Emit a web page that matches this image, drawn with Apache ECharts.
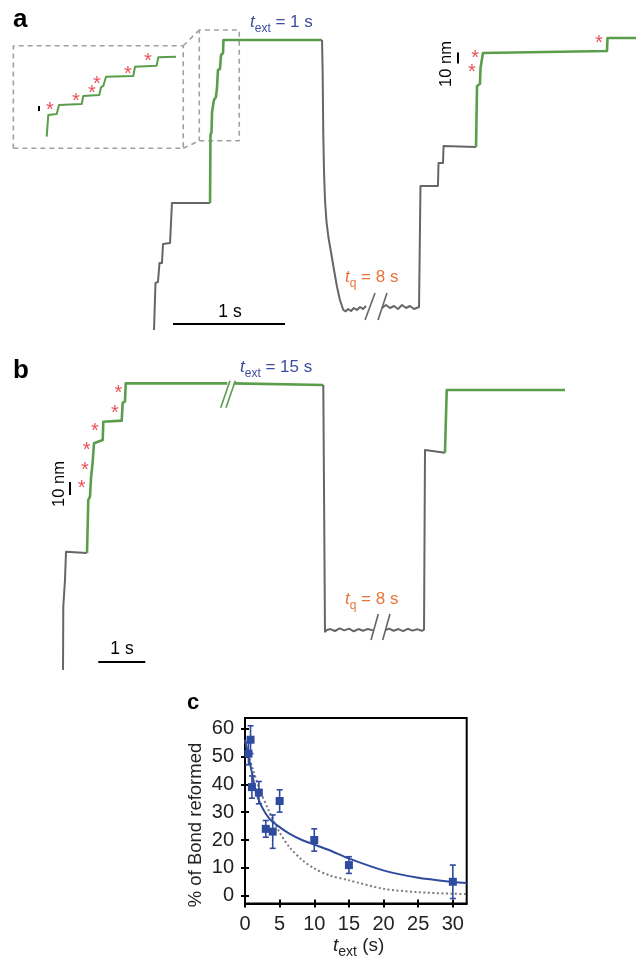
<!DOCTYPE html>
<html>
<head>
<meta charset="utf-8">
<script src="https://cdn.jsdelivr.net/npm/echarts@6/dist/echarts.min.js"></script>
<style>
  html, body { margin: 0; padding: 0; background: #fff; }
  #chart { width: 636px; height: 961px; }
</style>
</head>
<body>
<div id="chart"></div>
<script>
// ---- panel a : time (s), extension (nm) ----
const aGray1 = [[0.036,9.1],[0.049,51.8],[0.071,52.7],[0.085,70.0],[0.107,70.0],[0.116,87.3],[0.179,88.2],[0.196,124.5],[0.536,124.5]];
const aGreen1 = [[0.536,124.5],[0.540,186.4],[0.549,189.1],[0.554,207.3],[0.567,209.1],[0.571,218.2],[0.589,220.9],[0.598,229.1],[0.607,245.5],[0.625,246.4],[0.634,259.1],[0.652,260.9],[0.656,272.7],[1.536,272.7]];
const aGray2 = [[1.536,272.7],[1.542,240.0],[1.547,187.9],[1.554,151.8],[1.5625,127.3],[1.576,107.3],[1.594,92.7],[1.616,80.0],[1.643,63.6],[1.670,48.2],[1.696,36.4],[1.726,27.3],[1.748,26.0],[1.768,28.2],[1.795,26.4],[1.821,29.1],[1.848,27.3],[1.875,30.0],[1.902,28.2],[1.929,30.9]];
const aGray3 = [[2.071,29.1],[2.107,31.8],[2.143,29.1],[2.179,30.9],[2.214,28.2],[2.25,31.8],[2.286,29.1],[2.321,30.9],[2.357,28.2],[2.402,30.0],[2.415,140.0],[2.571,140.0],[2.576,160.9],[2.616,160.9],[2.621,176.4],[2.911,175.5]];
const aGreen2 = [[2.911,175.5],[2.920,230.9],[2.946,232.7],[2.951,247.3],[2.964,248.2],[2.973,260.9],[4.080,262.7],[4.085,274.5],[4.339,274.5]];
const aStars = [[2.902,260.9],[2.875,247.3],[4.009,274.5]];
const aBreak1 = [[1.920,18.2],[2.009,42.7]];
const aBreak2 = [[2.036,18.2],[2.116,42.7]];
const aBarT = [[0.205,14.5],[1.205,14.5]];
const aBarZ = [[2.75,251.4],[2.75,261.4]];
const aBoxSmall = [[0.440,181.2],[0.797,181.2],[0.797,281.8],[0.440,281.8],[0.440,181.2]];
const aBoxInset = [[-1.220,174.3],[0.297,174.3],[0.297,267.5],[-1.220,267.5],[-1.220,174.3]];
const aLinkTop = [[0.297,267.5],[0.440,281.8]];
const aLinkBot = [[0.297,174.3],[0.440,181.2]];

// ---- inset of a : time (ms), extension (nm) ----
const insetTrace = [[70.8,11.1],[74.1,32.3],[91.8,33.3],[96.6,42.1],[144.3,43.1],[147.6,51.0],[181.2,51.9],[184.8,59.5],[189.6,60.8],[195.3,69.9],[252.6,70.6],[256.2,79.7],[301.8,80.7],[305.1,88.9],[342.3,89.5]];
const insetStars = [[77.7,41.2],[132.3,50.0],[165.9,58.8],[176.4,67.6],[241.5,77.4],[283.5,89.2]];
const insetBar = [[54.6,36.3],[54.6,41.2]];

// ---- panel b : time (s), extension (nm) ----
const bGray1 = [[0.064,0],[0.070,48.7],[0.096,50.0],[0.106,69.2],[0.117,70.0],[0.128,91.0],[0.575,90.0]];
const bGreen1 = [[0.575,90.0],[0.602,130.8],[0.638,133.3],[0.660,147.5],[0.696,160.2],[0.723,174.4],[0.909,176.9],[0.921,191.0],[1.313,191.8],[1.334,205.6],[1.383,206.4],[1.398,220.5],[3.56,220.5]];
const bGreen2 = [[3.70,220.5],[5.602,219.2]];
const bGray2 = [[5.602,219.2],[5.638,29.5],[5.681,30.8],[5.75,31.5],[5.85,30.0],[5.95,32.0],[6.05,30.5],[6.15,31.8],[6.25,29.8],[6.35,31.5],[6.45,30.2],[6.55,31.6],[6.66,30.5]];
const bGray3 = [[6.93,30.6],[7.0,31.8],[7.1,30.2],[7.2,31.5],[7.3,29.9],[7.4,31.7],[7.5,30.3],[7.6,31.4],[7.7,30.1],[7.745,31.0],[7.766,169.2],[8.191,167.2]];
const bGreen3 = [[8.191,167.2],[8.228,215.4],[10.745,215.4]];
const bStars = [[1.240,216.7],[1.170,201.3],[0.745,187.7],[0.568,172.5],[0.532,157.2],[0.462,143.1]];
const bBreakG1 = [[3.419,201.8],[3.617,222.5]];
const bBreakG2 = [[3.532,201.8],[3.730,222.5]];
const bBreakK1 = [[6.617,23.1],[6.772,43.1]];
const bBreakK2 = [[6.866,23.1],[7.021,43.1]];
const bBarT = [[0.815,6.2],[1.815,6.2]];
const bBarZ = [[0.213,134.6],[0.213,144.6]];

// ---- panel c ----
const cT   = [0.5, 0.8, 1, 2, 3, 4, 5, 10, 15, 30];
const cPct = [51, 56, 39, 37, 24, 23, 34, 20, 11, 5];
const cLo  = [47, 51, 35, 33, 21, 17, 30, 16, 8, -1];
const cHi  = [55, 61, 43, 41, 27, 29, 38, 24, 14, 11];
const fitT     = [0, 0.87, 1.59, 2.31, 3.51, 4.95, 6.4, 8.3, 10.05, 12.2, 15.05, 19.96, 24.8, 30.06, 32];
const fitSolid = [56, 45.7, 37.3, 32.5, 27.7, 24.7, 22.3, 19.9, 18.3, 16.3, 13.3, 9.1, 6.5, 4.9, 4.6];
const expT     = [0, 1.1, 2.07, 3.51, 4.95, 6.4, 8.3, 10.05, 12.2, 15.05, 19.96, 24.8, 30.06, 32];
const expVals  = [55.5, 45.7, 38.5, 30.1, 22.9, 17.5, 12.7, 9.7, 7.3, 5.5, 2.5, 1.3, 0.7, 0.6];
const yTicks = [0, 10, 20, 30, 40, 50, 60];
const xTicks = [0, 5, 10, 15, 20, 25, 30];

const FONT = '"Liberation Sans", Arial, Helvetica, sans-serif';
const GREEN = '#5a9e4c', GRAY = '#666666', RED = '#e3262d', BLUE = '#2f4b9f';
const LBLUE = '#3d4c9c', ORANGE = '#e8743b', BOXGRAY = '#a0a0a0';

function trace(idx, data, color, width, extra) {
  return Object.assign({
    type: 'line', xAxisIndex: idx, yAxisIndex: idx, data: data,
    symbol: 'none', silent: true, animation: false,
    lineStyle: { color: color, width: width, join: 'round' }
  }, extra || {});
}
function dashed(data) {
  return trace(0, data, BOXGRAY, 1.6, { lineStyle: { color: BOXGRAY, width: 1.6, type: [5, 4] } });
}
function stars(idx, data) {
  return {
    type: 'scatter', xAxisIndex: idx, yAxisIndex: idx, data: data,
    symbolSize: 1, itemStyle: { color: 'transparent' }, silent: true, animation: false, z: 5,
    label: { show: true, position: 'inside', formatter: '*', color: RED, fontSize: 20, fontFamily: FONT, offset: [0, 5] }
  };
}
function hidden(grid, min, max) {
  return { type: 'value', gridIndex: grid, min: min, max: max, show: false };
}
function txt(x, y, text, size, extra) {
  return {
    type: 'text', x: x, y: y, z: 100, rotation: (extra && extra.rotation) || 0,
    style: Object.assign({
      text: text, fill: '#000', font: size + 'px ' + FONT,
      textAlign: 'left', align: 'left', textVerticalAlign: 'middle', verticalAlign: 'middle'
    }, (extra && extra.style) || {})
  };
}
function subLabel(x, y, base, sub, rest, color, size) {
  return {
    type: 'text', x: x, y: y, z: 100,
    style: {
      text: '{i|' + base + '}{s|' + sub + '}{n|' + rest + '}',
      fill: color, textAlign: 'left', align: 'left', textVerticalAlign: 'middle', verticalAlign: 'middle',
      rich: {
        i: { fontStyle: 'italic', fontSize: size, fontFamily: FONT, lineHeight: 26, fill: color },
        s: { fontSize: Math.round(size * 0.72), fontFamily: FONT, lineHeight: 14, verticalAlign: 'bottom', fill: color },
        n: { fontSize: size, fontFamily: FONT, lineHeight: 26, fill: color }
      }
    }
  };
}

const tickAxisX = { type: 'value', min: 0, max: 32, splitLine: { show: false } };
const tickAxisY = { type: 'value', min: -2.8, max: 63.8, splitLine: { show: false } };

const option = {
  backgroundColor: '#ffffff',
  animation: false,
  grid: [
    { left: 0, top: 0, width: 636, height: 340 },
    { left: 13, top: 45, width: 170, height: 103 },
    { left: 0, top: 350, width: 636, height: 320 },
    { left: 245, right: 169.3, top: 718, bottom: 57.5, show: true, borderColor: '#000', borderWidth: 2 }
  ],
  xAxis: [
    hidden(0, -1.3393, 4.3393),
    hidden(1, 0, 357),
    hidden(2, -1.2766, 12.2553),
    Object.assign({}, tickAxisX, {
      gridIndex: 3, position: 'bottom',
      axisLine: { show: true, onZero: false, lineStyle: { color: '#000', width: 2 } },
      axisTick: { show: true, length: 4, customValues: xTicks, lineStyle: { color: '#000', width: 2 } },
      axisLabel: { show: true, customValues: xTicks, fontSize: 20, color: '#222', fontFamily: FONT, margin: 11 }
    }),
    Object.assign({}, tickAxisX, {
      gridIndex: 3, position: 'bottom',
      axisLine: { show: false, onZero: false },
      axisTick: { show: true, inside: true, length: 4, customValues: xTicks, lineStyle: { color: '#000', width: 2 } },
      axisLabel: { show: false }
    })
  ],
  yAxis: [
    hidden(0, 0, 309.09),
    hidden(1, 0, 100.94),
    hidden(2, 0, 246.154),
    Object.assign({}, tickAxisY, {
      gridIndex: 3, position: 'left',
      axisLine: { show: true, onZero: false, lineStyle: { color: '#000', width: 2 } },
      axisTick: { show: true, length: 4, customValues: yTicks, lineStyle: { color: '#000', width: 2 } },
      axisLabel: { show: true, customValues: yTicks, fontSize: 20, color: '#222', fontFamily: FONT, margin: 11 }
    }),
    Object.assign({}, tickAxisY, {
      gridIndex: 3, position: 'left', offset: 0,
      axisLine: { show: false, onZero: false },
      axisTick: { show: true, inside: true, length: 4, customValues: yTicks, lineStyle: { color: '#000', width: 2 } },
      axisLabel: { show: false }
    })
  ],
  series: [
    // panel a
    dashed(aBoxSmall),
    dashed(aBoxInset),
    dashed(aLinkTop),
    dashed(aLinkBot),
    trace(0, aGray1, GRAY, 2),
    trace(0, aGreen1, GREEN, 2.6),
    trace(0, aGray2, GRAY, 2),
    trace(0, aGray3, GRAY, 2),
    trace(0, aGreen2, GREEN, 2.6),
    trace(0, aBreak1, GRAY, 1.6),
    trace(0, aBreak2, GRAY, 1.6),
    trace(0, aBarT, '#000', 2),
    trace(0, aBarZ, '#000', 2),
    stars(0, aStars),
    // inset
    trace(1, insetTrace, GREEN, 2),
    trace(1, insetBar, '#000', 2),
    stars(1, insetStars),
    // panel b
    trace(2, bGray1, GRAY, 2),
    trace(2, bGreen1, GREEN, 2.6),
    trace(2, bGreen2, GREEN, 2.6),
    trace(2, bGray2, GRAY, 2),
    trace(2, bGray3, GRAY, 2),
    trace(2, bGreen3, GREEN, 2.6),
    trace(2, bBreakG1, GREEN, 1.6),
    trace(2, bBreakG2, GREEN, 1.6),
    trace(2, bBreakK1, GRAY, 1.6),
    trace(2, bBreakK2, GRAY, 1.6),
    trace(2, bBarT, '#000', 2),
    trace(2, bBarZ, '#000', 2),
    stars(2, bStars),
    // panel c
    trace(3, expT.map((t, i) => [t, expVals[i]]), '#777', 2, { smooth: 0.3, lineStyle: { color: '#7a7a7a', width: 2, type: [2, 2.5] }, z: 2 }),
    trace(3, fitT.map((t, i) => [t, fitSolid[i]]), BLUE, 2, { smooth: 0.3, z: 3 }),
    {
      type: 'custom', xAxisIndex: 3, yAxisIndex: 3, silent: true, animation: false, z: 4,
      data: cT.map((t, i) => [t, cLo[i], cHi[i]]),
      encode: { x: 0, y: [1, 2] },
      renderItem: function (params, api) {
        const x = api.value(0);
        const lo = api.coord([x, api.value(1)]);
        const hi = api.coord([x, api.value(2)]);
        const w = 3;
        const st = { stroke: BLUE, lineWidth: 1.6 };
        return {
          type: 'group', children: [
            { type: 'line', shape: { x1: lo[0], y1: lo[1], x2: hi[0], y2: hi[1] }, style: st },
            { type: 'line', shape: { x1: lo[0] - w, y1: lo[1], x2: lo[0] + w, y2: lo[1] }, style: st },
            { type: 'line', shape: { x1: hi[0] - w, y1: hi[1], x2: hi[0] + w, y2: hi[1] }, style: st }
          ]
        };
      }
    },
    {
      type: 'scatter', xAxisIndex: 3, yAxisIndex: 3, silent: true, animation: false, z: 5,
      data: cT.map((t, i) => [t, cPct[i]]),
      symbol: 'rect', symbolSize: 8, itemStyle: { color: BLUE, opacity: 1 }
    }
  ],
  graphic: [
    txt(13, 20, 'a', 26, { style: { font: 'bold 26px ' + FONT } }),
    txt(13, 371, 'b', 26, { style: { font: 'bold 26px ' + FONT } }),
    txt(187, 703, 'c', 22, { style: { font: 'bold 22px ' + FONT } }),
    subLabel(250, 22, 't', 'ext', ' = 1 s', LBLUE, 17),
    subLabel(345, 277, 't', 'q', ' = 8 s', ORANGE, 17),
    subLabel(240, 367, 't', 'ext', ' = 15 s', LBLUE, 17),
    subLabel(345, 599, 't', 'q', ' = 8 s', ORANGE, 17),
    txt(230, 312, '1 s', 17.5, { style: { textAlign: 'center', align: 'center' } }),
    txt(122, 649, '1 s', 17.5, { style: { textAlign: 'center', align: 'center' } }),
    txt(446.5, 64, '10 nm', 16.5, { rotation: Math.PI / 2, style: { textAlign: 'center', align: 'center' } }),
    txt(59, 484, '10 nm', 16.5, { rotation: Math.PI / 2, style: { textAlign: 'center', align: 'center' } }),
    txt(195.5, 825, '% of Bond reformed', 18.5, { rotation: Math.PI / 2, style: { textAlign: 'center', align: 'center', fill: '#222' } }),
    subLabel(333, 946, 't', 'ext', ' (s)', '#222', 19)
  ]
};

const chart = echarts.init(document.getElementById('chart'), null, { renderer: 'canvas' });
chart.setOption(option);
</script>
</body>
</html>
